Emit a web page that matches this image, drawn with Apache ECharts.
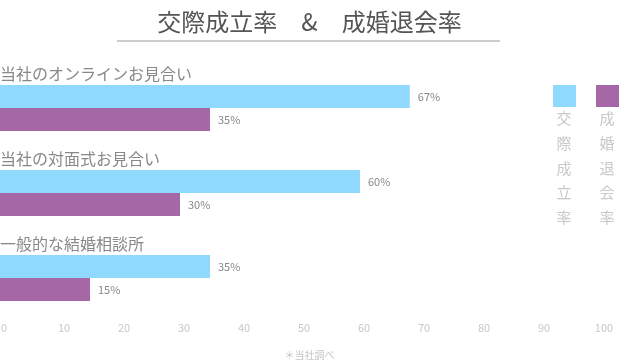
<!DOCTYPE html>
<html>
<head>
<meta charset="utf-8">
<script src="https://cdn.jsdelivr.net/npm/echarts@6/dist/echarts.min.js"></script>
<style>html,body{margin:0;padding:0;background:#fff}#c{width:619px;height:363px}</style>
</head>
<body>
<div id="c"></div>
<script>
const titleText = '交際成立率　&　成婚退会率';
const footnote = '＊当社調べ';
const categories = ['当社のオンラインお見合い', '当社の対面式お見合い', '一般的な結婚相談所'];
const seriesNames = ['交際成立率', '成婚退会率'];
const datingRate = [68.3, 60, 35];
const marriageRate = [35, 30, 15];
const datingLabels = ['67%', '60%', '35%'];
const marriageLabels = ['35%', '30%', '15%'];
const xTicks = [0, 10, 20, 30, 40, 50, 60, 70, 80, 90, 100];
const colors = ['#8fd8fe', '#a667a6'];

const FONT = '"Noto Sans CJK JP", "Noto Sans", sans-serif';
const chart = echarts.init(document.getElementById('c'), null, {renderer: 'canvas'});

function vertical(s) { return s.split('').join('\n'); }

const option = {
  animation: false,
  textStyle: {fontFamily: FONT},
  title: [
    {text: titleText, left: 'center', top: 10, padding: 0,
     textStyle: {fontFamily: FONT, fontSize: 24, fontWeight: 'normal', color: '#555', lineHeight: 24}},
    {text: footnote, left: 'center', top: 349, padding: 0,
     textStyle: {fontFamily: FONT, fontSize: 10, fontWeight: 'normal', color: '#c4c4c4', lineHeight: 12}}
  ],
  legend: [
    {data: [seriesNames[0]], left: 553, top: 85, padding: 0, itemWidth: 23, itemHeight: 22,
     icon: 'rect', formatter: function () { return ''; }, selectedMode: false},
    {data: [seriesNames[1]], left: 596, top: 85, padding: 0, itemWidth: 23, itemHeight: 22,
     icon: 'rect', formatter: function () { return ''; }, selectedMode: false}
  ],
  graphic: [
    {type: 'line', shape: {x1: 117, y1: 41, x2: 500, y2: 41}, style: {stroke: '#bbb', lineWidth: 1.5}},
    {type: 'text', x: 564, y: 106, style: {text: vertical(seriesNames[0]), font: '15px ' + FONT, fill: '#c8c8c8', align: 'center', verticalAlign: 'top', lineHeight: 24.75}},
    {type: 'text', x: 607, y: 106, style: {text: vertical(seriesNames[1]), font: '15px ' + FONT, fill: '#c8c8c8', align: 'center', verticalAlign: 'top', lineHeight: 24.75}}
  ],
  grid: {left: 0, width: 600, top: 65.5, height: 255, containLabel: false, outerBoundsMode: 'none'},
  xAxis: {
    type: 'value', min: xTicks[0], max: xTicks[xTicks.length - 1], interval: xTicks[1] - xTicks[0],
    axisLine: {show: false}, axisTick: {show: false}, splitLine: {show: false},
    axisLabel: {color: '#c8c8c8', fontSize: 11, fontFamily: FONT, margin: 2, padding: [0, 0, 0, 8],
                showMinLabel: true, showMaxLabel: true}
  },
  yAxis: {
    type: 'category', data: categories, inverse: true,
    axisLine: {show: false}, axisTick: {show: false}, splitLine: {show: false},
    axisLabel: {inside: true, margin: 0, align: 'left', verticalAlign: 'bottom', lineHeight: 16,
                padding: [0, 0, 26, 0], fontSize: 16, color: '#888', fontFamily: FONT}
  },
  series: [
    {name: seriesNames[0], type: 'bar', data: datingRate, barWidth: 23, barGap: '0%',
     itemStyle: {color: colors[0]},
     label: {show: true, position: 'right', distance: 8, fontSize: 11, color: '#888', fontFamily: FONT,
             formatter: function (p) { return datingLabels[p.dataIndex]; }}},
    {name: seriesNames[1], type: 'bar', data: marriageRate, barWidth: 23, barGap: '0%',
     itemStyle: {color: colors[1]},
     label: {show: true, position: 'right', distance: 8, fontSize: 11, color: '#888', fontFamily: FONT,
             formatter: function (p) { return marriageLabels[p.dataIndex]; }}}
  ]
};
chart.setOption(option);
</script>
</body>
</html>
